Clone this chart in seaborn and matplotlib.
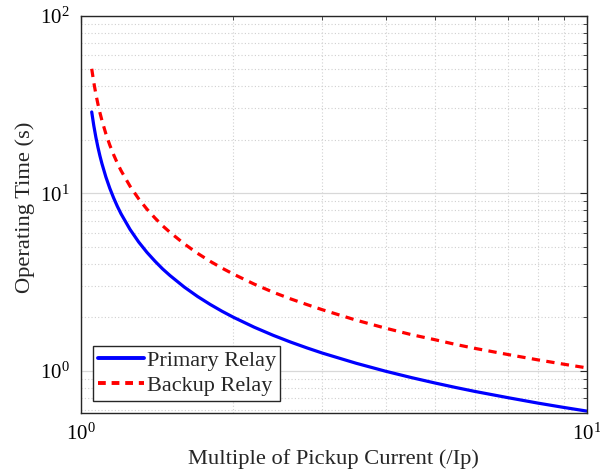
import numpy as np
import pandas as pd
import matplotlib
matplotlib.use("Agg")
import matplotlib.pyplot as plt
import seaborn as sns
from matplotlib.ticker import LogLocator, NullFormatter
from matplotlib.lines import Line2D

# Values
multiple = [1.05, 1.06, 1.07, 1.08, 1.09, 1.1, 1.12, 1.14, 1.16, 1.18, 1.2, 1.25, 1.3, 1.35,
            1.4, 1.45, 1.5, 1.6, 1.7, 1.8, 1.9, 2.0, 2.2, 2.4, 2.6, 2.8, 3.0, 3.5, 4.0, 4.5,
            5.0, 5.5, 6.0, 7.0, 8.0, 9.0, 10.0]
primary_time = [28.68, 24.01, 20.68, 18.18, 16.23, 14.68, 12.34, 10.67, 9.42, 8.44, 7.66, 6.26,
                5.32, 4.65, 4.15, 3.75, 3.44, 2.965, 2.624, 2.368, 2.167, 2.006, 1.762, 1.585,
                1.451, 1.346, 1.260, 1.104, 0.996, 0.917, 0.856, 0.807, 0.767, 0.706, 0.659,
                0.623, 0.594]
backup_time = [50.19, 42.02, 36.19, 31.82, 28.40, 25.69, 21.60, 18.67, 16.49, 14.77, 13.41, 10.96,
               9.31, 8.14, 7.26, 6.56, 6.02, 5.19, 4.59, 4.14, 3.79, 3.51, 3.08, 2.77, 2.54,
               2.36, 2.21, 1.93, 1.74, 1.60, 1.50, 1.41, 1.34, 1.235, 1.154, 1.091, 1.04]
series_names = ["Primary Relay", "Backup Relay"]

df = pd.DataFrame({
    "x": multiple * 2,
    "t": primary_time + backup_time,
    "relay": [series_names[0]] * len(multiple) + [series_names[1]] * len(multiple),
})

sns.set_theme(style="white")
plt.rcParams["font.family"] = ["Liberation Serif", "DejaVu Serif"]
plt.rcParams["mathtext.fontset"] = "stix"

fig = plt.figure(figsize=(6.0, 4.73), dpi=100)
ax = fig.add_axes([0.135, 0.127, 0.843, 0.840])

sns.lineplot(data=df, x="x", y="t", hue="relay", style="relay",
             palette={series_names[0]: "#0000ff", series_names[1]: "#ff0000"},
             dashes={series_names[0]: "", series_names[1]: (2.6, 2.0)},
             linewidth=2.3, ax=ax, legend=False)

ax.set_xscale("log")
ax.set_yscale("log")
ax.set_xlim(1, 10)
ax.set_ylim(0.58, 100)

ax.xaxis.set_minor_locator(LogLocator(base=10, subs=np.arange(2, 10)))
ax.yaxis.set_minor_locator(LogLocator(base=10, subs=np.arange(2, 10)))
ax.xaxis.set_minor_formatter(NullFormatter())
ax.yaxis.set_minor_formatter(NullFormatter())

ax.grid(True, which="major", color="#d8d8d8", linewidth=0.9, linestyle="-")
ax.grid(True, which="minor", color="#d0d0d0", linewidth=0.8, linestyle=(0, (1, 2)))
ax.set_axisbelow(True)

ax.tick_params(which="both", direction="in", top=True, right=True, colors="#262626",
               labelcolor="black", labelsize=15)
ax.tick_params(which="major", length=5, width=0.8, pad=8)
ax.tick_params(which="minor", length=3, width=0.6)
for s in ax.spines.values():
    s.set_color("#262626")
    s.set_linewidth(1.0)

ax.set_xlabel("Multiple of Pickup Current (/Ip)", fontsize=16.2, labelpad=3)
ax.set_ylabel("Operating Time (s)", fontsize=16.2)
ax.yaxis.set_label_coords(-0.111, 0.518)
ax.yaxis.label.set_va("center")

handles = [Line2D([], [], color="#0000ff", linewidth=2.8),
           Line2D([], [], color="#ff0000", linewidth=2.8, linestyle=(0, (2, 1.5)))]
leg = ax.legend(handles, series_names, loc="lower left", fontsize=16, frameon=True,
                fancybox=False, edgecolor="#262626", framealpha=1,
                handlelength=2.1, handletextpad=0.1, borderpad=0.2,
                labelspacing=0.2, borderaxespad=0.55)
leg.get_frame().set_linewidth(1.0)

fig.savefig("out.png", dpi=100)
